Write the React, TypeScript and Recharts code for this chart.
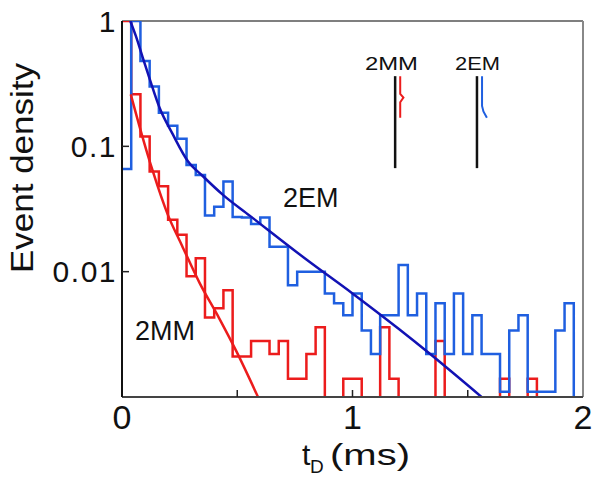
import { Line, LineChart, ReferenceLine, XAxis, YAxis } from 'recharts';

// burst duration histograms, bins of 0.04 ms from 0 to 2 ms (0 = empty bin)
const BIN_WIDTH = 0.04;
const FLOOR = 1e-4; // empty bins sit below the axis floor and get clipped

const emCounts = [
  0.066, 1.0, 0.48, 0.3, 0.185, 0.146, 0.115, 0.071, 0.059, 0.028,
  0.033, 0.0525, 0.0273, 0.027, 0.024, 0.027, 0.0158, 0.0158, 0.0078, 0.01,
  0.01, 0.01, 0.0067, 0.0056, 0.0045, 0.0067, 0.0034, 0.0022, 0.0045, 0.0045,
  0.0113, 0.0045, 0.0067, 0.0022, 0.0056, 0.0022, 0.0067, 0.0022, 0.0045, 0.0022,
  0.0022, 0.0011, 0.0034, 0.0045, 0.0011, 0.0011, 0.0011, 0.0034, 0.0056, 0,
];

const mmCounts = [
  1.0, 0.26, 0.12, 0.063, 0.048, 0.026, 0.0197, 0.0092, 0.0128, 0.0043,
  0.0051, 0.0071, 0.0021, 0.0021, 0.0028, 0.0028, 0.0022, 0.0028, 0.0014, 0.0014,
  0.0022, 0.0036, 0, 0, 0.0014, 0.0014, 0, 0, 0.0036, 0.0014,
  0, 0, 0, 0, 0.0028, 0, 0, 0, 0, 0,
  0, 0.0014, 0, 0, 0.0014, 0, 0, 0, 0, 0,
];

// fitted curves
const emFit: [number, number][] = [
  [0.036, 1.0], [0.06, 0.76], [0.09, 0.51], [0.12, 0.345], [0.163, 0.203],
  [0.22, 0.125], [0.286, 0.076], [0.35, 0.058], [0.438, 0.041], [0.554, 0.028],
  [0.8, 0.0125], [1.0, 0.0067], [1.2, 0.0035], [1.337, 0.0022], [1.56, 0.001],
];

const mmFit: [number, number][] = [
  [0.038, 0.26], [0.09, 0.117], [0.134, 0.063], [0.199, 0.0284], [0.26, 0.0162],
  [0.337, 0.0081], [0.42, 0.0043], [0.497, 0.0023], [0.59, 0.001],
];

// little inset sketch (top right)
const insetBarMM: [number, number][] = [[1.185, 0.363], [1.185, 0.067]];
const insetBarEM: [number, number][] = [[1.54, 0.363], [1.54, 0.067]];
const insetMM: [number, number][] = [
  [1.207, 0.363], [1.207, 0.262], [1.221, 0.245], [1.207, 0.225], [1.207, 0.169],
];
const insetEM: [number, number][] = [
  [1.562, 0.363], [1.562, 0.21], [1.568, 0.19], [1.583, 0.169],
];

const xTicks = [0, 0.5, 1, 1.5, 2];
const yTicks = [0.01, 0.1, 1];

const BLUE = '#1f5fe0';
const NAVY = '#1212b4';
const RED = '#ec1c1c';
const FONT = '"Liberation Sans", Arial, sans-serif';

function toSteps(counts: number[]) {
  const pts = counts.map((v, i) => ({ t: +(i * BIN_WIDTH).toFixed(2), v: v > 0 ? v : FLOOR }));
  pts.push({ t: 2, v: pts[pts.length - 1].v });
  return pts;
}

const toPts = (arr: [number, number][]) => arr.map(([t, v]) => ({ t, v }));

const XTick = (props: any) => {
  const { x, y, payload } = props;
  const v = payload.value as number;
  const axisY = y - 8;
  return (
    <g>
      {v > 0 && v < 2 && <line x1={x} x2={x} y1={axisY} y2={axisY - 7} stroke="#222" strokeWidth={1.5} />}
      {Number.isInteger(v) && (
        <text x={x} y={axisY + 32} textAnchor="middle" fontSize={34} fontFamily={FONT} fill="#111">
          {v}
        </text>
      )}
    </g>
  );
};

const YTick = (props: any) => {
  const { x, y, payload } = props;
  const v = payload.value as number;
  const axisX = x + 5;
  return (
    <g>
      {v < 1 && <line x1={axisX} x2={axisX + 7} y1={y} y2={y} stroke="#222" strokeWidth={1.5} />}
      <text x={x} y={y} dy="0.36em" textAnchor="end" fontSize={30} letterSpacing={1.5} fontFamily={FONT} fill="#111">
        {String(v)}
      </text>
    </g>
  );
};

export default function App() {
  return (
    <div style={{ position: 'absolute', left: 0, top: 0, width: 602, height: 484, background: '#fff' }}>
      <LineChart width={602} height={484} margin={{ top: 21, right: 19, bottom: 0, left: 0 }}>
        <XAxis
          type="number"
          dataKey="t"
          domain={[0, 2]}
          ticks={xTicks}
          allowDataOverflow
          height={87}
          tickSize={0}
          tickMargin={8}
          tick={<XTick />}
          axisLine={{ stroke: '#444', strokeWidth: 2 }}
        />
        <YAxis
          type="number"
          dataKey="v"
          scale="log"
          domain={[0.001, 1]}
          ticks={yTicks}
          allowDataOverflow
          width={122}
          tickSize={0}
          tickMargin={5}
          tick={<YTick />}
          axisLine={{ stroke: '#111', strokeWidth: 2 }}
        />
        <ReferenceLine y={1} stroke="#555" strokeWidth={1.5} />
        <ReferenceLine x={2} stroke="#888" strokeWidth={2} />

        <Line data={toSteps(mmCounts)} dataKey="v" type="stepAfter" stroke={RED} strokeWidth={2.5} dot={false} isAnimationActive={false} />
        <Line data={toSteps(emCounts)} dataKey="v" type="stepAfter" stroke={BLUE} strokeWidth={2.5} dot={false} isAnimationActive={false} />
        <Line data={toPts(mmFit)} dataKey="v" type="monotone" stroke={RED} strokeWidth={2.5} dot={false} isAnimationActive={false} />
        <Line data={toPts(emFit)} dataKey="v" type="monotone" stroke={NAVY} strokeWidth={2.5} dot={false} isAnimationActive={false} />

        <Line data={toPts(insetBarMM)} dataKey="v" type="linear" stroke="#111" strokeWidth={2.5} dot={false} isAnimationActive={false} />
        <Line data={toPts(insetBarEM)} dataKey="v" type="linear" stroke="#111" strokeWidth={2.5} dot={false} isAnimationActive={false} />
        <Line data={toPts(insetMM)} dataKey="v" type="linear" stroke={RED} strokeWidth={2} dot={false} isAnimationActive={false} />
        <Line data={toPts(insetEM)} dataKey="v" type="linear" stroke={BLUE} strokeWidth={2} dot={false} isAnimationActive={false} />
      </LineChart>

      <svg
        width={602}
        height={484}
        style={{ position: 'absolute', left: 0, top: 0, pointerEvents: 'none' }}
        fontFamily={FONT}
        fill="#111"
      >
        <text
          transform="translate(33,168) rotate(-90)"
          textAnchor="middle"
          fontSize={32}
          textLength={210}
          lengthAdjust="spacingAndGlyphs"
        >
          Event density
        </text>
        <text x={302} y={465} fontSize={30}>t</text>
        <text x={310} y={473} fontSize={19}>D</text>
        <text x={330} y={465} fontSize={30} textLength={80} lengthAdjust="spacingAndGlyphs">(ms)</text>

        <text x={283} y={207} fontSize={27}>2EM</text>
        <text x={135} y={340} fontSize={27}>2MM</text>
        <text x={365} y={70} fontSize={19} textLength={53} lengthAdjust="spacingAndGlyphs">2MM</text>
        <text x={455} y={70} fontSize={19} textLength={45} lengthAdjust="spacingAndGlyphs">2EM</text>
      </svg>
    </div>
  );
}
